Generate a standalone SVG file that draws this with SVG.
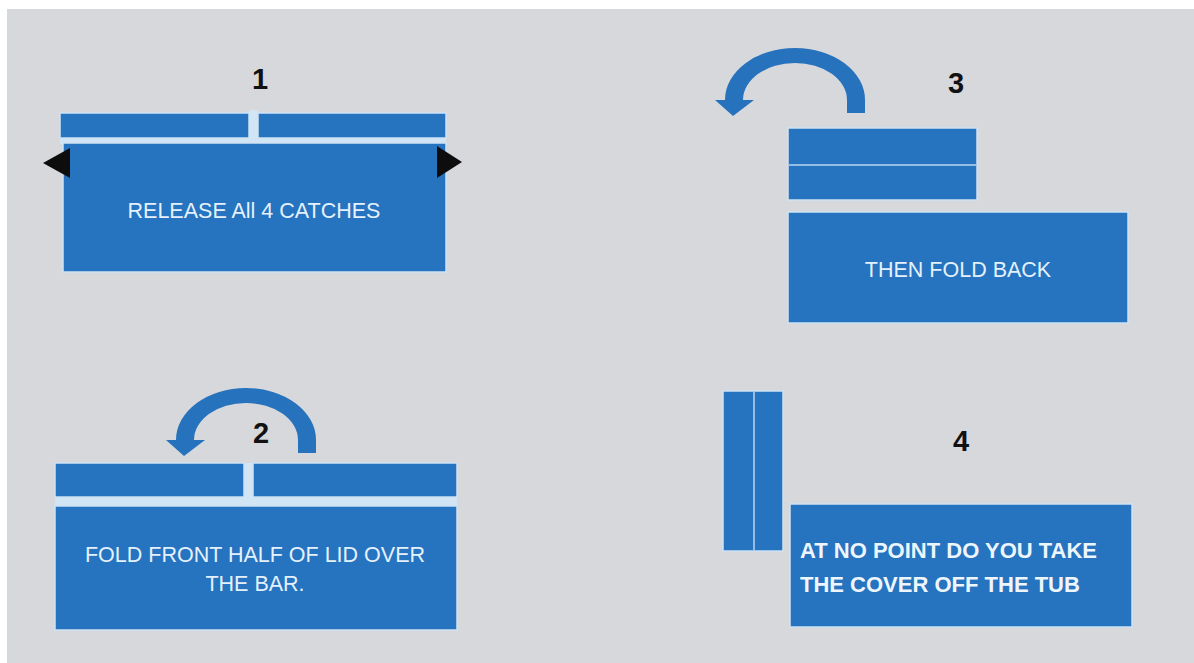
<svg xmlns="http://www.w3.org/2000/svg" width="1194" height="663" viewBox="0 0 1194 663">
  <style>
    .bg { fill: #d7d8dc; }
    .box { fill: #2673bf; stroke: #cfe2f3; stroke-width: 1.5; }
    .gap { fill: #d2e5f5; }
    .seam { stroke: #b9d6f0; stroke-width: 1.5; }
    .num { font-family: "Liberation Sans", Arial, sans-serif; font-weight: bold; font-size: 29px; fill: #111; text-anchor: middle; }
    .lbl { font-family: "Liberation Sans", Arial, sans-serif; font-size: 21.5px; fill: #e4f1fc; text-anchor: middle; }
    .lblb { font-family: "Liberation Sans", Arial, sans-serif; font-weight: bold; font-size: 22px; fill: #eef6fd; }
    .catch { fill: #0d0d0d; }
    .arrow { fill: #2672bd; }
  </style>
  <defs>
    <path id="foldArrow" d="M70,13 L70,0 A70,52 0 0 0 -70,0 L-80,0 L-62,16 L-41,0 L-52,0 A52,37 0 0 1 52,0 L52,13 Z"/>
  </defs>

  <rect x="0" y="0" width="1194" height="663" fill="#ffffff"/>
  <rect class="bg" x="7" y="9" width="1187" height="654"/>

  <g id="step1">
    <text class="num" x="260" y="89">1</text>
    <rect class="gap" x="249" y="110" width="9" height="34"/>
    <rect class="gap" x="60" y="138" width="386" height="6"/>
    <rect class="box" x="60" y="113" width="189" height="25"/>
    <rect class="box" x="258" y="113" width="188" height="25"/>
    <rect class="box" x="63" y="143" width="383" height="129"/>
    <polygon class="catch" points="43,163 70,148 70,178"/>
    <polygon class="catch" points="437,146 462,162 437,178"/>
    <text class="lbl" x="254" y="218">RELEASE All 4 CATCHES</text>
  </g>

  <g id="step2">
    <text class="num" x="261" y="443">2</text>
    <rect class="gap" x="244" y="463" width="9" height="44"/>
    <rect class="gap" x="55" y="497" width="402" height="9"/>
    <rect class="box" x="55" y="463" width="189" height="34"/>
    <rect class="box" x="253" y="463" width="204" height="34"/>
    <rect class="box" x="55" y="506" width="402" height="124"/>
    <text class="lbl" x="255" y="562">FOLD FRONT HALF OF LID OVER</text>
    <text class="lbl" x="255" y="591">THE BAR.</text>
  </g>

  <g id="step3">
    <text class="num" x="956" y="93">3</text>
    <rect class="box" x="788" y="128" width="189" height="72"/>
    <line class="seam" x1="789" y1="165" x2="976" y2="165"/>
    <rect class="box" x="788" y="212" width="340" height="111"/>
    <text class="lbl" x="958" y="277">THEN FOLD BACK</text>
  </g>

  <g id="step4">
    <text class="num" x="961" y="451">4</text>
    <rect class="box" x="723" y="391" width="60" height="160"/>
    <line class="seam" x1="754" y1="392" x2="754" y2="550"/>
    <rect class="box" x="790" y="504" width="342" height="123"/>
    <text class="lblb" x="800" y="558">AT NO POINT DO YOU TAKE</text>
    <text class="lblb" x="800" y="592">THE COVER OFF THE TUB</text>
  </g>

  <g id="connectors">
    <use href="#foldArrow" class="arrow" x="246" y="440"/>
    <use href="#foldArrow" class="arrow" x="795" y="100"/>
  </g>
</svg>
